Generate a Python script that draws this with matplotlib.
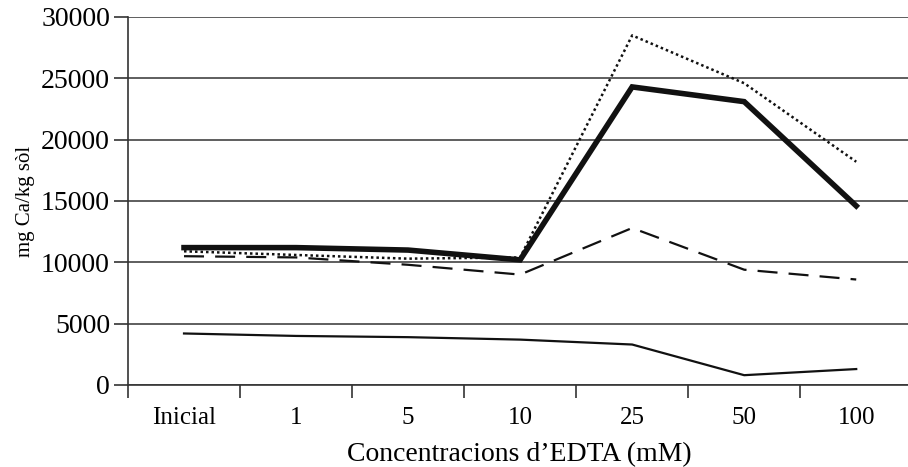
"""Ca extracted vs EDTA concentration"""
import numpy as np
import matplotlib
matplotlib.use('Agg')
import matplotlib.pyplot as plt

# data
categories = ['Inicial', '1', '5', '10', '25', '50', '100']
thick_solid = [11200, 11200, 11000, 10200, 24300, 23100, 14600]
dotted = [10900, 10600, 10300, 10400, 28500, 24600, 18200]
dashed = [10500, 10400, 9800, 9000, 12800, 9400, 8600]
thin_solid = [4200, 4000, 3900, 3700, 3300, 800, 1300]
yticks = [0, 5000, 10000, 15000, 20000, 25000, 30000]

plt.rcParams['font.family'] = ['Liberation Serif', 'DejaVu Serif']

fig = plt.figure(figsize=(9.08, 4.67), dpi=100)
axes = fig.add_axes([128 / 908, 1 - 385 / 467, 782 / 908, 368 / 467])
x = np.arange(len(categories))

axes.plot(x, thick_solid, color='#111111', linewidth=4.0, solid_joinstyle='miter')
axes.plot(x, dotted, color='#111111', linewidth=1.8, linestyle=(0, (1, 1.2)))
axes.plot(x, dashed, color='#111111', linewidth=1.6, linestyle=(0, (9, 5)))
axes.plot(x, thin_solid, color='#111111', linewidth=1.6)

axes.set_ylim(0, 30000)
axes.set_xlim(-0.5, 6.48)
axes.set_yticks(yticks)
axes.set_yticklabels([str(v) for v in yticks], fontsize=20)
axes.set_xticks(np.arange(-0.5, 6.5, 1.0))
axes.set_xticklabels([])
axes.set_xticks(x, minor=True)
axes.set_xticklabels(categories, minor=True, fontsize=18)
axes.tick_params(axis='x', which='minor', length=0, pad=16)
axes.tick_params(axis='x', which='major', length=9, width=1.2, color='#333333')
axes.tick_params(axis='y', length=10, width=1.2, color='#333333', pad=3)

axes.grid(True, axis='y', color='#333333', linewidth=1.1)
axes.set_axisbelow(True)
for side in ['top', 'right']:
    axes.spines[side].set_visible(False)
for side in ['left', 'bottom']:
    axes.spines[side].set_color('#333333')
    axes.spines[side].set_linewidth(1.2)

axes.set_ylabel('mg Ca/kg sòl', fontsize=15, labelpad=4)
axes.set_xlabel("Concentracions d\u2019EDTA (mM)", fontsize=20, labelpad=9)

fig.savefig('out.png', dpi=100)
